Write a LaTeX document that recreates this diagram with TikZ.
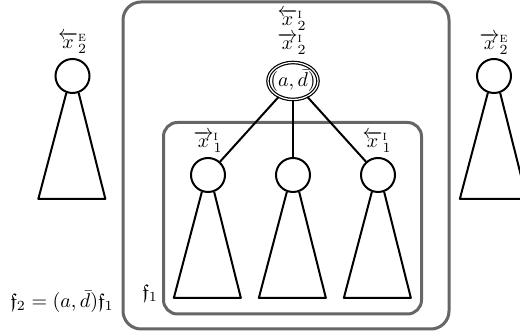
\documentclass[tikz,border=0pt]{standalone}
\usepackage{amsmath}
\usepackage{amssymb}
\usetikzlibrary{shapes.geometric}

\tikzset{
  treenode/.style={circle, draw, line width=1pt, minimum size=17pt, inner sep=0pt},
  rootnode/.style={ellipse, draw, double, line width=0.6pt, double distance=0.6pt, inner xsep=-3pt, inner ysep=-1pt, minimum width=25pt, minimum height=18.5pt},
  scopebox/.style={draw=black!60, line width=1.5pt},
  subtree/.style={line width=1pt, line join=round}
}

\begin{document}
\begin{tikzpicture}[x=0.5pt,y=0.5pt,yscale=-1,xscale=1]
\useasboundingbox (0,0) rectangle (520,335);

% Boxes
\draw [scopebox, rounded corners=9pt] (123,2) rectangle (449,329);
\draw [scopebox, rounded corners=7pt] (163.5,122.5) rectangle (421.5,314);

% Tree nodes
\node [rootnode] (root) at (293,81) {$(a,\bar{d})$};
\node [treenode] (left) at (72.5,76) {};
\node [treenode] (right) at (494,76) {};
\node [treenode] (c1) at (208,175) {};
\node [treenode] (c2) at (293,175) {};
\node [treenode] (c3) at (378,175) {};

% Connection
\draw [line width=1pt] (root) -- (c1);
\draw [line width=1pt] (root) -- (c2);
\draw [line width=1pt] (root) -- (c3);

% Subtrees
\draw [subtree] (left.-110) -- ++(-28,106) -- ++(67,0) -- (left.-70);
\draw [subtree] (right.-110) -- ++(-28,106) -- ++(67,0) -- (right.-70);
\draw [subtree] (c1.-110) -- ++(-28,106) -- ++(67,0) -- (c1.-70);
\draw [subtree] (c2.-110) -- ++(-28,106) -- ++(67,0) -- (c2.-70);
\draw [subtree] (c3.-110) -- ++(-28,106) -- ++(67,0) -- (c3.-70);

% Text Node
\node [inner sep=0.75pt] (rootin) at (292,20) {$\overleftarrow{x}^{\textsc{i}}_2$};
% Text Node
\node [inner sep=0.75pt] (rootout) at (292,44) {$\overrightarrow{x}^{\textsc{i}}_2$};
% Text Node
\node [inner sep=0.75pt] (leftlab) at (72.5,43) {$\overleftarrow{x}^{\textsc{e}}_2$};
% Text Node
\node [inner sep=0.75pt] (rightlab) at (494,44) {$\overrightarrow{x}^{\textsc{e}}_2$};
% Text Node
\node [inner sep=0.75pt] (c1lab) at (208,142) {$\overrightarrow{x}^{\textsc{i}}_1$};
% Text Node
\node [inner sep=0.75pt] (c3lab) at (377,142) {$\overleftarrow{x}^{\textsc{i}}_1$};
% Text Node
\node [inner sep=0.75pt] (innername) at (150,293) {$\mathfrak{f}_1$};
% Text Node
\node [inner sep=0.75pt] (outername) at (62,302) {$\mathfrak{f}_2=(a,\bar{d})\mathfrak{f}_1$};

\end{tikzpicture}
\end{document}
